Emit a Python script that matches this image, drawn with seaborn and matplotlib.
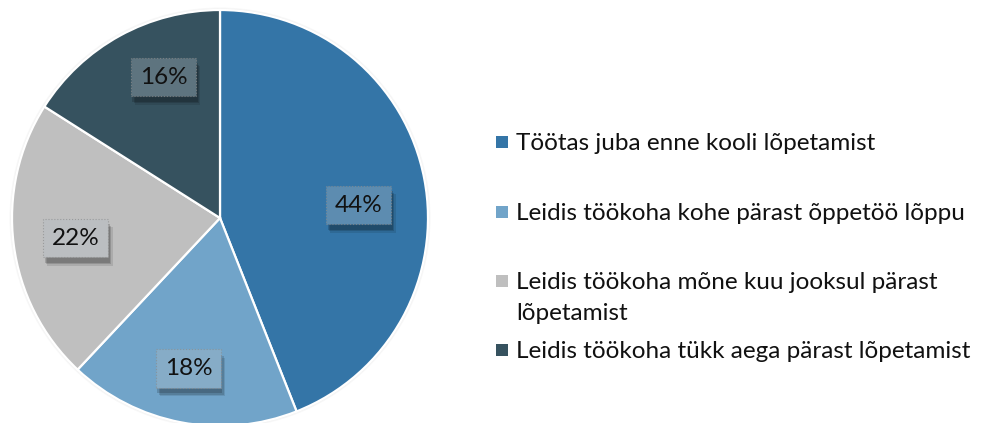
import numpy as np
import matplotlib
matplotlib.use("Agg")
import matplotlib.pyplot as plt
import matplotlib.patheffects as pe
from matplotlib.patches import Rectangle, Circle
import seaborn as sns

# Chart data
categories = [
    "Töötas juba enne kooli lõpetamist",
    "Leidis töökoha kohe pärast õppetöö lõppu",
    "Leidis töökoha mõne kuu jooksul pärast\nlõpetamist",
    "Leidis töökoha tükk aega pärast lõpetamist",
]
shares = [44, 18, 22, 16]
slice_colors = ["#3475a7", "#71a4c9", "#bfbfbf", "#36525f"]

sns.set_theme(style="white")
plt.rcParams["font.family"] = ["Lato", "DejaVu Sans"]

W, H, DPI = 982, 423, 100
fig = plt.figure(figsize=(W / DPI, H / DPI), dpi=DPI)
fig.patch.set_facecolor("white")

# pie geometry in pixels (centre measured from the top-left corner)
cx, cy, R = 220, 218, 208
ax = fig.add_axes([(cx - R) / W, (H - cy - R) / H, 2 * R / W, 2 * R / H])
ax.set_xlim(-1, 1)
ax.set_ylim(-1, 1)
ax.axis("off")

palette = sns.color_palette(slice_colors)

# soft halo round the rim
for k, a in [(1.012, 0.06), (1.006, 0.08)]:
    ax.add_patch(Circle((0, 0), k, facecolor="#808080", alpha=a,
                        edgecolor="none", zorder=0, clip_on=False))

wedges, texts, autotexts = ax.pie(
    shares,
    colors=palette,
    startangle=90,
    counterclock=False,
    radius=1.0,
    autopct="%1.0f%%",
    pctdistance=0.70,
    wedgeprops=dict(edgecolor="white", linewidth=1.6),
    textprops=dict(fontsize=17.5, color="#111111"),
)
ax.set_xlim(-1, 1)
ax.set_ylim(-1, 1)
ax.set_aspect("auto")

# per-label placement: radial distance and angular nudge (degrees)
label_radius = [0.67, 0.74, 0.70, 0.73]
label_nudge = [-5.5, -1.0, 0.7, -7.0]
for w, t, r, d in zip(wedges, autotexts, label_radius, label_nudge):
    ang = np.deg2rad((w.theta1 + w.theta2) / 2 + d)
    t.set_position((r * np.cos(ang), r * np.sin(ang)))


def blend(c, other, t):
    c = np.array(matplotlib.colors.to_rgb(c))
    o = np.array(matplotlib.colors.to_rgb(other))
    return tuple(c * (1 - t) + o * t)


shadow_fx = [
    pe.SimplePatchShadow(offset=(3, -6), shadow_rgbFace="black", alpha=0.10),
    pe.SimplePatchShadow(offset=(2, -5), shadow_rgbFace="black", alpha=0.14),
    pe.SimplePatchShadow(offset=(1, -4), shadow_rgbFace="black", alpha=0.16),
    pe.Normal(),
]

for t, col in zip(autotexts, slice_colors):
    t.set_bbox(dict(boxstyle="square,pad=0.36",
                    facecolor=blend(col, "#b4bcc4", 0.32),
                    edgecolor=(0.55, 0.55, 0.55, 0.7),
                    linestyle=":", linewidth=0.8))
    t.get_bbox_patch().set_path_effects(shadow_fx)

# legend, drawn in pixel positions
sq = 12
sq_x = 496
text_x = 516
line_step = 31
rows_y = [142, 212, 281, 350]  # centre of each square, from the top
for label, col, yc in zip(categories, slice_colors, rows_y):
    fig.patches.append(Rectangle(((sq_x) / W, (H - yc - sq / 2) / H),
                                 sq / W, sq / H, transform=fig.transFigure,
                                 facecolor=col, edgecolor="none"))
    for i, line in enumerate(label.split("\n")):
        yb = yc + 8 + i * line_step
        fig.text(text_x / W, (H - yb) / H, line, fontsize=17.5,
                 color="#111111", va="baseline", ha="left")

fig.savefig("out.png", dpi=DPI, facecolor="white")
